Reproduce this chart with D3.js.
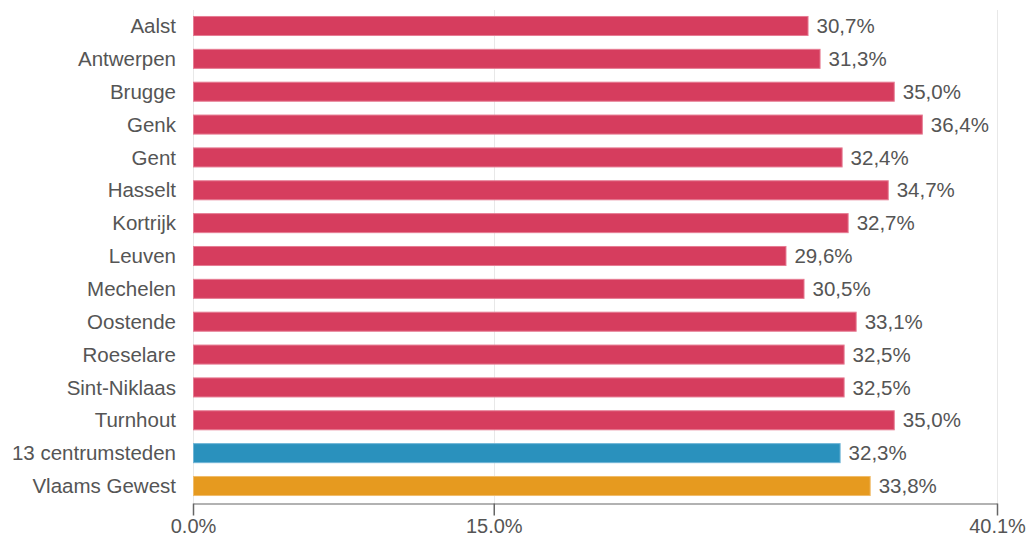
<!DOCTYPE html>
<html>
<head>
<meta charset="utf-8">
<script src="https://cdn.jsdelivr.net/npm/d3@7"></script>
<style>
html,body{margin:0;padding:0;background:#fff;}
svg{display:block;font-family:"Liberation Sans",Arial,sans-serif;}
</style>
</head>
<body>
<svg id="chart" width="1029" height="536"></svg>
<script>
const categories = ["Aalst","Antwerpen","Brugge","Genk","Gent","Hasselt","Kortrijk","Leuven","Mechelen","Oostende","Roeselare","Sint-Niklaas","Turnhout","13 centrumsteden","Vlaams Gewest"];
const values = [30.7,31.3,35.0,36.4,32.4,34.7,32.7,29.6,30.5,33.1,32.5,32.5,35.0,32.3,33.8];
const groups = ["stad","stad","stad","stad","stad","stad","stad","stad","stad","stad","stad","stad","stad","centrum","vlaanderen"];
const tickValues = [0, 15, 40.1];
const xMax = 40.1;

const colors = {stad:"#d63d5e", centrum:"#2a91bd", vlaanderen:"#e69a1f"};
const strokes = {stad:"#e67c93", centrum:"#6fb5d6", vlaanderen:"#f0bc6a"};

const svg = d3.select("#chart");
const x = d3.scaleLinear().domain([0, xMax]).range([193, 997]);
const y = d3.scaleBand().domain(categories).range([9.4, 502.6]).paddingInner(0.39).paddingOuter(0.2);
const fmt = v => v.toFixed(1).replace(".", ",") + "%";

// gridlines
svg.append("g").selectAll("line").data(tickValues).join("line")
  .attr("x1", d => Math.round(x(d)) + 0.5).attr("x2", d => Math.round(x(d)) + 0.5)
  .attr("y1", 10).attr("y2", 503)
  .attr("stroke", "#e8e8e8").attr("stroke-width", 1);

// bars
const data = categories.map((c, i) => ({c, v: values[i], g: groups[i]}));
svg.append("g").selectAll("rect").data(data).join("rect")
  .attr("x", x(0) + 0.5)
  .attr("y", d => y(d.c) + 0.5)
  .attr("width", d => x(d.v) - x(0) - 1)
  .attr("height", y.bandwidth() - 1)
  .attr("fill", d => colors[d.g])
  .attr("stroke", d => strokes[d.g])
  .attr("stroke-width", 1);

// value labels
svg.append("g").selectAll("text").data(data).join("text")
  .attr("x", d => x(d.v) + 8)
  .attr("y", d => y(d.c) + y.bandwidth() / 2)
  .attr("dy", "0.35em")
  .attr("font-size", 20.5)
  .attr("fill", "#555")
  .text(d => fmt(d.v));

// category labels
svg.append("g").selectAll("text").data(data).join("text")
  .attr("x", 176)
  .attr("y", d => y(d.c) + y.bandwidth() / 2)
  .attr("dy", "0.35em")
  .attr("text-anchor", "end")
  .attr("font-size", 20.5)
  .attr("fill", "#555")
  .text(d => d.c);

// x axis
const axis = d3.axisBottom(x).tickValues(tickValues).tickSize(12).tickSizeOuter(0)
  .tickFormat(d => d.toFixed(1) + "%");
const gx = svg.append("g").attr("transform", "translate(0,503.5)").call(axis);
gx.select(".domain").attr("stroke", "#666").attr("stroke-width", 1.2);
gx.selectAll(".tick line").attr("stroke", "#666").attr("stroke-width", 1.5);
gx.selectAll(".tick text").attr("font-size", 20).attr("fill", "#555")
  .attr("font-family", "Liberation Sans, Arial, sans-serif").attr("y", 15).attr("dy", "0.71em");
</script>
</body>
</html>
